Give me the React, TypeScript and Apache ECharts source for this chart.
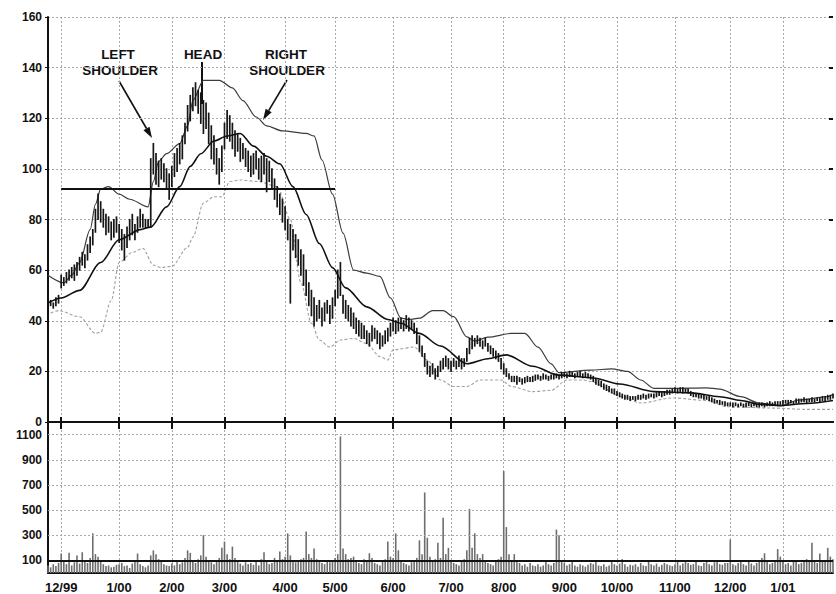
import React, { useEffect, useRef } from 'react';
import * as echarts from 'echarts';

// ---- categories: trading days per month ----
const MONTH_LABELS = ['11/99', '12/99', '1/00', '2/00', '3/00', '4/00', '5/00', '6/00', '7/00', '8/00', '9/00', '10/00', '11/00', '12/00', '1/01'];
const MONTH_TRADING_DAYS = [5, 22, 20, 20, 23, 19, 22, 22, 20, 23, 20, 22, 21, 20, 20];

// ---- daily price range (low / high) ----
const PRICE_LOW = [
  45, 46, 45, 46, 47,
  53, 54, 55, 56, 57, 56, 58, 60, 62, 61, 64, 67, 70, 75, 80, 79, 77, 74, 75, 72, 73, 75,
  71, 68, 64, 69, 72, 74, 72, 75, 77, 77, 76.5, 77, 77, 98, 94, 93, 96, 95, 92, 88,
  93, 97, 99, 102, 104, 110, 115, 119, 123, 125, 122, 118, 114, 116, 110, 104, 102, 98, 94, 99,
  108, 112, 111, 108, 105, 107, 103, 104, 101, 99, 97, 98, 100, 96, 95, 98, 91, 95, 92, 88, 85, 82, 79,
  76, 72, 47, 68, 65, 62, 58, 54, 50, 46, 42, 38, 40, 41, 38, 40, 43, 39, 41,
  46, 49, 50, 43, 41, 40, 38, 37, 35, 34, 33, 33, 31, 30, 32, 33, 31, 29, 30, 31, 32, 34,
  36, 35, 36, 37, 36, 37, 36, 37, 35, 31, 28, 26, 22, 19, 18, 19, 17, 18, 20, 21, 22, 21,
  20, 22, 21, 22, 21, 22, 24, 27, 29, 30, 31, 30, 29, 30, 28, 27, 26, 25, 24, 21,
  19, 18, 17, 16, 16, 15, 16, 15, 15.5, 16, 16, 16, 16.5, 17, 16.5, 17, 17, 16.5, 17, 17, 17.5, 17, 17.5,
  18, 17.5, 18, 18, 17.5, 18, 18, 17.5, 18, 17.5, 17, 16, 15, 14.5, 14, 13, 12.5, 12, 11.5, 11,
  10.5, 10, 9.5, 9, 9, 8.5, 9, 8.5, 9, 9, 9.5, 9, 9.5, 10, 9.5, 10, 10.5, 10, 10.5, 11, 11, 11.5,
  12, 11.5, 12, 11.5, 12, 11.5, 10.5, 10, 10, 9.5, 9.5, 9, 9, 8.5, 8, 7.5, 7.5, 7, 7, 6.5, 6.5,
  6.5, 6, 6.5, 6, 6.5, 6, 6, 6.5, 6, 6.5, 6, 6, 6.5, 6, 6.5, 6.5, 6.5, 7, 6.5, 7,
  7, 7.5, 7, 7.5, 7, 7.5, 7.5, 8, 8, 7.5, 8, 8, 8, 8.5, 8, 8.5, 8.5, 9, 9, 9.5,
];
const PRICE_HIGH = [
  48, 48, 47, 49, 50,
  58, 57, 59, 60, 61, 62, 63, 65, 67, 66, 70, 73, 76, 84, 90, 87, 84, 82, 81, 79, 80, 81,
  78, 76, 74, 77, 80, 82, 78, 81, 84, 82, 80, 80, 104, 110, 106, 103, 104, 102, 100, 98,
  101, 106, 108, 110, 113, 118, 125, 129, 132, 134, 131, 130, 127, 126, 122, 117, 113, 108, 104, 109,
  118, 123, 121, 118, 115, 114, 112, 110, 108, 107, 105, 106, 107, 104, 105, 106, 104, 103, 100, 96, 93, 90, 88,
  85, 80, 78, 76, 74, 72, 68, 66, 60, 55, 52, 49, 46, 48, 45, 47, 48, 46, 49,
  52, 60, 63, 50, 48, 46, 45, 43, 41, 40, 39, 38, 36, 35, 38, 37, 36, 35, 34, 36, 37, 39,
  41, 40, 41, 41, 40, 42, 41, 40, 39, 37, 34, 30, 27, 24, 22, 23, 21, 22, 24, 25, 26, 25,
  24, 25, 24, 26, 25, 25, 29, 33, 34, 33, 34, 33, 32, 33, 31, 30, 29, 28, 27, 25,
  23, 21, 19, 18, 18, 18, 17.5, 17, 17.5, 18, 17.5, 18, 18.5, 18.5, 18, 19, 18.5, 18, 18.5, 19, 19, 18.5, 19.5,
  19.5, 19, 20, 19.5, 19, 19.5, 20, 19, 19.5, 19, 18.5, 18, 17, 16.5, 16, 15, 14.5, 14, 13, 13,
  12, 11.5, 11, 10.5, 10.5, 10, 10, 10, 10.5, 10.5, 11, 10.5, 11, 11, 11, 11.5, 12, 11.5, 12, 12.5, 12.5, 13,
  13.5, 13, 13.5, 13.5, 13, 13, 12, 11.5, 11, 11, 10.5, 10.5, 10, 10, 9.5, 9, 8.5, 8.5, 8, 8, 7.5,
  7.5, 7.5, 7.5, 7, 7.5, 7, 7.5, 7.5, 7, 7.5, 7, 7.5, 7.5, 7, 7.5, 8, 7.5, 8, 8, 8,
  8.5, 8.5, 8.5, 8.5, 8, 9, 9, 9, 9.5, 9, 9, 9.5, 9, 9.5, 9.5, 10, 10, 10.5, 10.5, 11,
];

// ---- daily volume (thousands) ----
const VOLUME = [
  60, 45, 70, 55, 80,
  155, 90, 70, 160, 60, 85, 140, 75, 165, 95, 80, 120, 315, 150, 130, 90, 70, 55, 60, 45, 50, 65,
  70, 80, 55, 60, 40, 75, 90, 155, 70, 55, 45, 60, 140, 180, 150, 110, 90, 70, 60, 55,
  75, 60, 90, 70, 85, 120, 180, 160, 95, 80, 110, 140, 300, 130, 90, 85, 70, 95, 120, 200,
  250, 150, 110, 210, 120, 90, 75, 60, 85, 70, 80, 65, 90, 60, 110, 165, 95, 70, 80, 120, 90, 170, 110,
  130, 315, 140, 100, 85, 90, 110, 120, 330, 150, 120, 195, 110, 90, 80, 70, 95, 85, 100,
  120, 150, 1085, 195, 150, 110, 120, 130, 90, 80, 70, 110, 95, 157, 120, 80, 70, 60, 90, 110, 250, 130,
  120, 315, 180, 90, 80, 70, 60, 85, 95, 120, 260, 150, 640, 280, 130, 90, 110, 240, 120, 440, 150, 200,
  100, 80, 70, 60, 90, 110, 180, 510, 200, 315, 150, 120, 150, 90, 80, 70, 60, 90, 110, 130,
  810, 365, 150, 100, 150, 90, 80, 60, 70, 50, 80, 60, 55, 70, 50, 60, 90, 70, 60, 80, 345, 300, 90,
  80, 60, 70, 100, 60, 50, 70, 60, 50, 65, 80, 70, 100, 60, 55, 70, 50, 60, 90, 70,
  60, 75, 110, 70, 50, 65, 60, 70, 50, 80, 60, 55, 90, 70, 60, 75, 50, 65, 80, 70, 60, 55,
  70, 90, 60, 75, 100, 80, 65, 70, 90, 60, 55, 80, 100, 70, 60, 85, 90, 70, 65, 80, 80,
  265, 70, 60, 80, 100, 70, 60, 90, 75, 60, 80, 100, 120, 157, 90, 70, 80, 100, 190, 130,
  90, 70, 80, 60, 90, 100, 70, 80, 90, 110, 90, 240, 100, 80, 155, 90, 100, 200, 130, 110,
];

// ---- indicator lines: [trading-day index, value] ----
const MOVING_AVG = [
  [0, 47], [5, 49], [12, 52], [20, 63], [27, 72], [35, 76], [39, 77], [45, 85], [50, 93], [54, 101],
  [58, 106], [63, 111], [68, 113], [73, 114], [78, 109], [83, 105], [88, 102], [93, 93], [98, 82],
  [103, 70.5], [108, 61], [113, 53], [121, 45.5], [129, 40.5], [134, 39], [141, 35], [149, 30],
  [159, 23], [167, 25], [174, 26.5], [184, 22], [194, 18.5], [207, 17.4], [217, 15], [230, 12],
  [244, 11.5], [255, 10], [263, 8.5], [270, 7], [278, 6.5], [288, 7.3], [298, 8.5],
];
const UPPER_BAND = [
  [0, 58], [6, 55], [9, 58], [12, 63], [16, 76], [18, 86], [20, 92], [23, 93], [27, 90], [31, 88],
  [38, 85], [40, 95], [42, 103], [45, 106], [50, 110], [53, 117], [55, 127], [59, 135], [65, 135],
  [70, 132], [74, 127], [79, 120.5], [83, 117], [89, 115], [98, 114], [101, 113], [104, 103.5],
  [108, 90], [112, 74.6], [116, 60], [121, 58.8], [126, 57.5], [130, 49], [134, 41], [137, 40.5],
  [141, 41], [146, 44], [150, 44], [154, 41.6], [159, 33.6], [162, 32], [167, 33.5], [176, 35],
  [181, 35], [186, 29.6], [191, 23], [194, 19.5], [206, 20.5], [214, 21], [220, 20], [225, 16.6],
  [230, 13.3], [237, 13.3], [250, 13.5], [255, 13], [263, 10], [270, 7.5], [278, 6.4], [285, 8.7],
  [296, 10], [298, 11],
];
const LOWER_BAND = [
  [1, 43], [4, 44], [12, 41.6], [18, 35], [20, 35.5], [24, 48], [27, 63], [32, 67], [36, 68.6],
  [40, 62], [43, 61], [47, 61.5], [53, 69], [55, 73], [59, 86.5], [63, 89], [66, 89], [69, 95],
  [73, 95.6], [80, 95], [87, 93], [92, 80], [96, 55], [100, 39], [103, 32.4], [107, 29.6],
  [111, 32.4], [116, 33], [121, 31], [126, 25.8], [129, 24.5], [131, 28.5], [139, 29.6],
  [144, 24.5], [149, 16.6], [154, 14], [159, 14], [164, 16.6], [172, 16.6], [176, 14], [184, 12],
  [191, 12.5], [197, 16.6], [203, 16.6], [206, 16], [218, 10], [225, 7.5], [237, 9.5], [250, 8.5],
  [258, 6], [275, 5.5], [288, 5], [298, 5],
];

// neckline (head-and-shoulders)
const NECKLINE_LEVEL = 92;
const NECKLINE_START = 5;
const NECKLINE_END = 109;

const PRICE_MAX = 160;
const PRICE_STEP = 20;
const VOLUME_MAX = 1200;
const VOLUME_GRID = [100, 300, 500, 700, 900, 1100];
const VOLUME_AVG = 100;

const CATEGORIES: string[] = [];
const MONTH_START: number[] = [];
MONTH_LABELS.forEach((m, i) => {
  if (i > 0) MONTH_START.push(CATEGORIES.length);
  for (let d = 1; d <= MONTH_TRADING_DAYS[i]; d++) CATEGORIES.push(`${m}#${d}`);
});

const FONT = '"Liberation Sans", Arial, Helvetica, sans-serif';

function arrow(x1: number, y1: number, x2: number, y2: number) {
  const dx = x2 - x1;
  const dy = y2 - y1;
  const len = Math.sqrt(dx * dx + dy * dy);
  const ux = dx / len;
  const uy = dy / len;
  const bx = x2 - ux * 11;
  const by = y2 - uy * 11;
  const nx = -uy * 3.5;
  const ny = ux * 3.5;
  return [
    { type: 'line', shape: { x1, y1, x2: bx, y2: by }, style: { stroke: '#111', lineWidth: 1.6 } },
    {
      type: 'polygon',
      shape: { points: [[x2, y2], [bx + nx, by + ny], [bx - nx, by - ny]] },
      style: { fill: '#111' },
    },
  ];
}

function label(text: string, x: number, y: number) {
  return {
    type: 'text',
    x,
    y,
    style: {
      text,
      fill: '#111',
      font: `bold 13.5px ${FONT}`,
      textAlign: 'center',
      textVerticalAlign: 'middle',
      align: 'center',
      verticalAlign: 'middle',
    },
  };
}

export default function App() {
  const ref = useRef<HTMLDivElement>(null);

  useEffect(() => {
    if (!ref.current) return;
    const chart = echarts.init(ref.current, undefined, { renderer: 'svg' });
    const isMonth = (index: number) => MONTH_START.indexOf(index) >= 0;
    const gridLine = { color: '#a8a8a8', width: 1, type: [2, 2] as any };
    const black2 = { color: '#111', width: 2 };
    const xFont = { color: '#111', fontWeight: 'bold', fontSize: 13, fontFamily: FONT };
    const yFont = { color: '#111', fontWeight: 'bold', fontSize: 12, fontFamily: FONT };

    const option: any = {
      animation: false,
      backgroundColor: '#ffffff',
      textStyle: { fontFamily: FONT },
      grid: [
        { left: 48, top: 17, width: 785, height: 405 },
        { left: 48, top: 422, width: 785, height: 153 },
      ],
      xAxis: [
        {
          gridIndex: 0, type: 'category', data: CATEGORIES, boundaryGap: false, position: 'bottom',
          axisLine: { show: true, lineStyle: black2 },
          axisTick: { show: true, inside: true, length: 5, interval: isMonth, lineStyle: black2 },
          axisLabel: { show: false },
          splitLine: { show: true, interval: isMonth, lineStyle: gridLine },
        },
        {
          gridIndex: 0, type: 'category', data: CATEGORIES, boundaryGap: false, position: 'top',
          axisLine: { show: true, lineStyle: black2 },
          axisTick: { show: true, inside: true, length: 7, interval: isMonth, lineStyle: black2 },
          axisLabel: { show: false },
          splitLine: { show: false },
        },
        {
          gridIndex: 1, type: 'category', data: CATEGORIES, boundaryGap: false, position: 'bottom',
          axisLine: { show: true, lineStyle: black2 },
          axisTick: { show: false },
          axisLabel: {
            ...xFont,
            interval: isMonth,
            formatter: (v: string) => v.split('#')[0],
            margin: 8,
          },
          splitLine: { show: true, interval: isMonth, lineStyle: gridLine },
        },
        {
          gridIndex: 1, type: 'category', data: CATEGORIES, boundaryGap: false, position: 'top',
          axisLine: { show: false },
          axisTick: { show: true, inside: true, length: 5, interval: isMonth, lineStyle: black2 },
          axisLabel: { show: false },
          splitLine: { show: false },
        },
      ],
      yAxis: [
        {
          gridIndex: 0, type: 'value', min: 0, max: PRICE_MAX, interval: PRICE_STEP,
          axisLine: { show: true, lineStyle: black2 },
          axisTick: { show: true, length: 3, lineStyle: { color: '#111' } },
          axisLabel: { ...yFont, margin: 6 },
          splitLine: { show: true, lineStyle: gridLine },
        },
        {
          gridIndex: 0, type: 'value', min: 0, max: PRICE_MAX, interval: PRICE_STEP, position: 'right',
          axisLine: { show: false },
          axisTick: { show: true, inside: true, length: 4, lineStyle: black2 },
          axisLabel: { show: false },
          splitLine: { show: false },
        },
        {
          gridIndex: 1, type: 'value', min: 0, max: VOLUME_MAX, interval: 100,
          axisLine: { show: true, lineStyle: black2 },
          axisTick: { show: false },
          axisLabel: {
            ...yFont,
            margin: 6,
            formatter: (v: number) => (VOLUME_GRID.indexOf(v) >= 0 ? String(v) : ''),
          },
          splitLine: { show: false },
        },
      ],
      series: [
        {
          type: 'custom',
          name: 'price',
          xAxisIndex: 0,
          yAxisIndex: 0,
          data: CATEGORIES.map((_, i) => [i, PRICE_LOW[i], PRICE_HIGH[i]]),
          encode: { x: 0, y: [1, 2] },
          renderItem: (_params: any, api: any) => {
            const lo = api.coord([api.value(0), api.value(1)]);
            const hi = api.coord([api.value(0), api.value(2)]);
            return {
              type: 'line',
              shape: { x1: lo[0], y1: lo[1] + 0.6, x2: hi[0], y2: hi[1] - 0.6 },
              style: { stroke: '#151515', lineWidth: 1.7 },
            };
          },
          z: 3,
        },
        {
          type: 'line', name: 'upper', xAxisIndex: 0, yAxisIndex: 0, data: UPPER_BAND,
          showSymbol: false, smooth: 0.3, smoothMonotone: 'x',
          lineStyle: { color: '#3c3c3c', width: 1.2 }, z: 2,
        },
        {
          type: 'line', name: 'lower', xAxisIndex: 0, yAxisIndex: 0, data: LOWER_BAND,
          showSymbol: false, smooth: 0.3, smoothMonotone: 'x',
          lineStyle: { color: '#a0a0a0', width: 1.1, type: [3, 2] }, z: 2,
        },
        {
          type: 'line', name: 'ma', xAxisIndex: 0, yAxisIndex: 0, data: MOVING_AVG,
          showSymbol: false, smooth: 0.3, smoothMonotone: 'x',
          lineStyle: { color: '#111', width: 1.6 }, z: 4,
          markLine: {
            silent: true,
            symbol: ['none', 'none'],
            label: { show: false },
            lineStyle: { color: '#111', width: 2.2, type: 'solid' },
            data: [[{ coord: [NECKLINE_START, NECKLINE_LEVEL] }, { coord: [NECKLINE_END, NECKLINE_LEVEL] }]],
          },
        },
        {
          type: 'bar', name: 'volume', xAxisIndex: 2, yAxisIndex: 2, data: VOLUME,
          barWidth: 1.6, itemStyle: { color: '#6e6e6e' },
          markLine: {
            silent: true,
            symbol: ['none', 'none'],
            label: { show: false },
            data: [
              ...VOLUME_GRID.filter((v) => v !== VOLUME_AVG).map((v) => ({ yAxis: v, lineStyle: { color: '#a8a8a8', width: 1, type: [2, 2] } })),
              { yAxis: VOLUME_AVG, lineStyle: { color: '#111', width: 2, type: 'solid' } },
            ],
          },
        },
      ],
      graphic: [
        label('LEFT', 118, 54),
        label('SHOULDER', 120, 70),
        label('HEAD', 203, 54),
        label('RIGHT', 286, 54),
        label('SHOULDER', 287, 70),
        { type: 'line', shape: { x1: 202, y1: 62, x2: 202, y2: 104 }, style: { stroke: '#111', lineWidth: 2 } },
        ...arrow(119, 81, 152, 138),
        ...arrow(287, 80, 263, 120),
      ],
    };

    chart.setOption(option);
    return () => chart.dispose();
  }, []);

  return (
    <div
      ref={ref}
      style={{ position: 'absolute', left: 0, top: 0, width: 836, height: 594, background: '#fff' }}
    />
  );
}
